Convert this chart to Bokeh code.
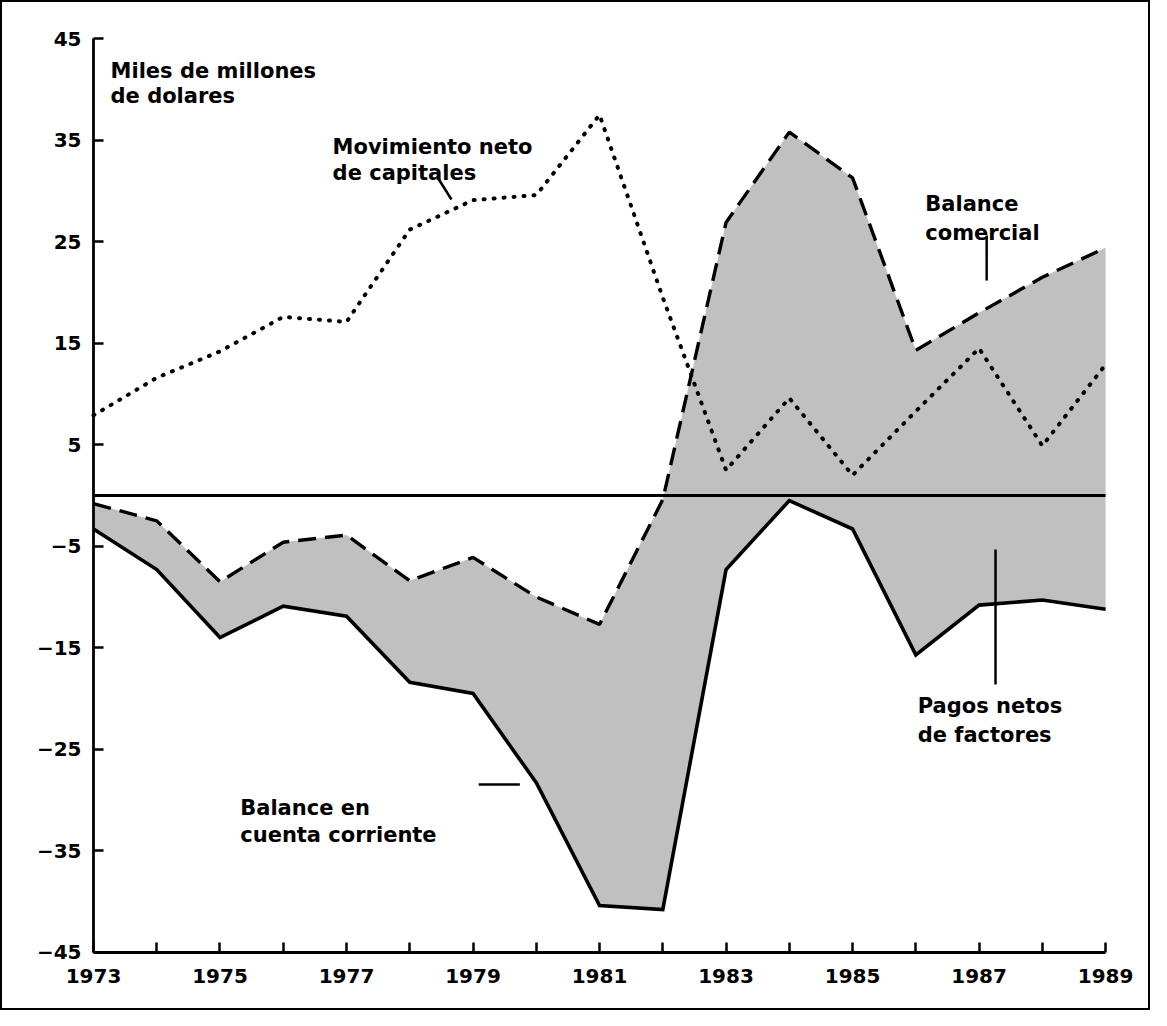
from bokeh.plotting import figure
from bokeh.models import FixedTicker, Range1d, ColumnDataSource
from bokeh.core.properties import value
from bokeh.embed import file_html
from bokeh.resources import INLINE

# ---- data ----
years = list(range(1973, 1990))
balance_comercial = [-0.8, -2.5, -8.5, -4.6, -3.9, -8.4, -6.1, -10.0, -12.7, -0.4,
                     26.9, 35.8, 31.3, 14.3, 18.0, 21.5, 24.4]
cuenta_corriente = [-3.3, -7.3, -14.0, -10.9, -11.9, -18.4, -19.5, -28.3, -40.4, -40.8,
                    -7.3, -0.5, -3.3, -15.7, -10.8, -10.3, -11.2]
capitales = [7.9, 11.6, 14.2, 17.6, 17.1, 26.2, 29.1, 29.6, 37.5, 19.5,
             2.5, 9.6, 2.0, 8.3, 14.5, 4.9, 12.9]
y_ticks = [-45, -35, -25, -15, -5, 5, 15, 25, 35, 45]
x_tick_labels = {y: (str(y) if (y - 1973) % 2 == 0 else "") for y in years}
y_tick_labels = {t: (str(t) if t >= 0 else "\u2212" + str(-t)) for t in y_ticks}

# annotation texts (line by line) and leaders
label_lines = ["Miles de millones", "de dolares",
               "Movimiento neto", "de capitales",
               "Balance", "comercial",
               "Pagos netos", "de factores",
               "Balance en", "cuenta corriente"]
label_x = [1973.27, 1973.27, 1976.78, 1976.78, 1986.15, 1986.15,
           1986.03, 1986.03, 1975.32, 1975.32]
label_y = [41.87, 39.41, 34.29, 31.82, 28.70, 25.86,
           -20.69, -23.55, -30.74, -33.47]
leader_x0 = [1978.44, 1987.12, 1987.26, 1979.09]
leader_x1 = [1978.66, 1987.12, 1987.26, 1979.74]
leader_y0 = [31.33, 25.62, -5.32, -28.47]
leader_y1 = [29.16, 21.18, -18.62, -28.47]

W, H = 1150, 1010
p = figure(width=W, height=H, output_backend="svg", toolbar_location=None,
           x_range=Range1d(1971.53, 1989.71), y_range=Range1d(-50.74, 48.77),
           min_border=0)
p.background_fill_color = "white"
p.border_fill_color = "white"
p.outline_line_color = "black"
p.outline_line_width = 3
p.xgrid.visible = False
p.ygrid.visible = False

# shaded area between trade balance and current account
p.varea(x=years, y1=cuenta_corriente, y2=balance_comercial,
        fill_color="#c0c0c0", fill_alpha=1.0)

# zero line
p.line(x=[years[0], years[-1]], y=[0, 0], line_color="black", line_width=2.8)

# series
p.line(x=years, y=balance_comercial, line_color="black", line_width=3.4,
       line_dash="18 9")
p.line(x=years, y=cuenta_corriente, line_color="black", line_width=3.6,
       line_join="miter")
p.line(x=years, y=capitales, line_color="black", line_width=4,
       line_dash="1 9", line_cap="round")

# leaders
p.segment(x0=leader_x0, y0=leader_y0, x1=leader_x1, y1=leader_y1,
          line_color="black", line_width=2.5)

# labels
src = ColumnDataSource(dict(x=label_x, y=label_y, t=label_lines))
p.text(x="x", y="y", text="t", source=src, text_font=value("DejaVu Sans"),
       text_font_size="21px", text_font_style="bold", text_color="black",
       text_baseline="alphabetic", text_align="left")

# axes
for ax in (p.xaxis[0], p.yaxis[0]):
    ax.axis_line_width = 2.8
    ax.axis_line_color = "black"
    ax.major_tick_line_width = 2.5
    ax.major_tick_line_color = "black"
    ax.major_tick_in = 10
    ax.major_tick_out = 0
    ax.minor_tick_line_color = None
    ax.major_label_text_font = "DejaVu Sans"
    ax.major_label_text_font_style = "bold"
    ax.major_label_text_font_size = "20px"
    ax.major_label_text_color = "black"

p.xaxis[0].ticker = FixedTicker(ticks=years)
p.xaxis[0].major_label_overrides = x_tick_labels
p.xaxis[0].fixed_location = -45
p.xaxis[0].bounds = (years[0], years[-1])
p.xaxis[0].major_label_standoff = 17

p.yaxis[0].ticker = FixedTicker(ticks=y_ticks)
p.yaxis[0].major_label_overrides = y_tick_labels
p.yaxis[0].fixed_location = 1973
p.yaxis[0].bounds = (y_ticks[0], y_ticks[-1])
p.yaxis[0].major_label_standoff = 12

open("out.html", "w").write(file_html(p, INLINE))
